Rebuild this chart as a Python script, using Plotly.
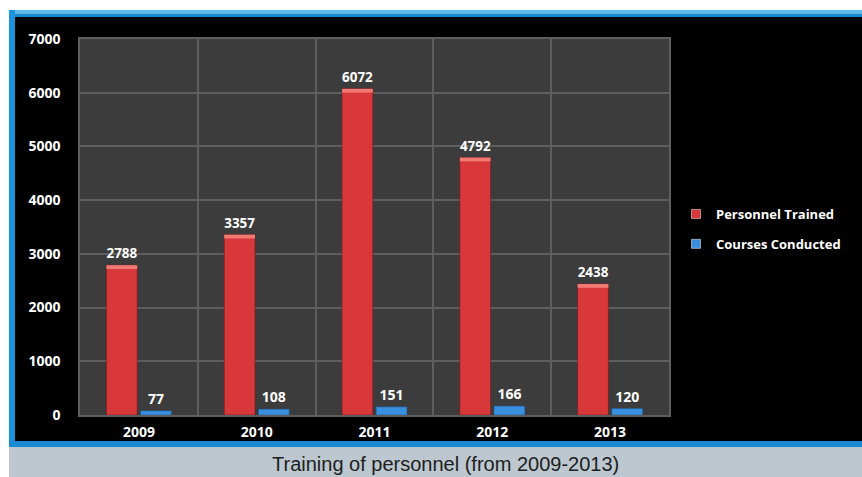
import plotly.graph_objects as go

# Training statistics per year
years = ["2009", "2010", "2011", "2012", "2013"]
personnel_trained = [2788, 3357, 6072, 4792, 2438]
courses_conducted = [77, 108, 151, 166, 120]
y_ticks = [0, 1000, 2000, 3000, 4000, 5000, 6000, 7000]

W, H = 862, 477
ML, MR, MT, MB = 80, 193, 39, 62
PW, PH = W - ML - MR, H - MT - MB

RED = "#d8383a"
RED_TOP = "#f27a74"
BLUE = "#3a90e0"
LABEL_FONT = dict(color="white", size=14, family="Open Sans", weight="bold")


def px_x(px):
    return (px - ML) / PW


def px_y(py):
    return (H - MB - py) / PH


def rect(x0, y0, x1, y1, color):
    return dict(type="rect", xref="paper", yref="paper", layer="below",
                x0=px_x(x0), x1=px_x(x1), y0=px_y(y1), y1=px_y(y0),
                fillcolor=color, line=dict(width=0))


# lighter cap on top of each red bar (3-D look)
cap = 70
cap_base = [v - cap for v in personnel_trained]

fig = go.Figure()
fig.add_trace(go.Bar(
    x=years, y=personnel_trained, name="Personnel Trained", offsetgroup="p",
    marker=dict(color=RED, line=dict(color="#7a1a1a", width=0.6)),
    text=personnel_trained, textposition="outside", cliponaxis=False,
    textfont=LABEL_FONT, showlegend=False,
))
fig.add_trace(go.Bar(
    x=years, y=[cap] * len(years), base=cap_base, offsetgroup="p",
    marker=dict(color=RED_TOP, line=dict(width=0)),
    hoverinfo="skip", showlegend=False,
))
fig.add_trace(go.Bar(
    x=years, y=courses_conducted, name="Courses Conducted", offsetgroup="c",
    marker=dict(color=BLUE, line=dict(color="#1c5c9c", width=0.6)),
    text=courses_conducted, textposition="outside", cliponaxis=False,
    textfont=LABEL_FONT, showlegend=False,
))

# legend entries
for name, color, grp in [("Personnel Trained", RED, "a"), ("Courses Conducted", BLUE, "b")]:
    fig.add_trace(go.Scatter(
        x=[None], y=[None], mode="markers", name=name, legendgroup=grp,
        marker=dict(symbol="square", size=9, color=color,
                    line=dict(color="white", width=0.5)),
    ))

shapes = [
    rect(15, 17, W, 441, "#000000"),          # black panel
    rect(9, 10, W, 13.5, "#5cbcf0"),          # top blue border (light)
    rect(9, 13.5, W, 17, "#178ad2"),          # top blue border (dark)
    rect(9, 10, 15, 441, "#1c94dc"),          # left blue border
    rect(9, 441, W, 447, "#1a8ad4"),          # bottom blue rule
    rect(9, 447, W, H, "#bcc7cf"),            # caption band
    rect(ML, MT, W - MR, H - MB, "#3c3c3c"),  # plot area
]

fig.update_layout(
    width=W, height=H,
    margin=dict(l=ML, r=MR, t=MT, b=MB, pad=0),
    paper_bgcolor="white", plot_bgcolor="rgba(0,0,0,0)",
    barmode="group", bargap=0.42, bargroupgap=0.1,
    shapes=shapes,
    font=dict(family="Open Sans", color="white"),
    legend=dict(
        x=px_x(676), xanchor="left", y=px_y(199), yanchor="top",
        bgcolor="rgba(0,0,0,0)", tracegroupgap=10,
        font=dict(size=13, color="white", family="Open Sans", weight="bold"),
        itemwidth=30,
    ),
    annotations=[dict(
        text="Training of personnel (from 2009-2013)",
        xref="paper", yref="paper", x=px_x(445), y=px_y(464),
        xanchor="center", yanchor="middle", showarrow=False,
        font=dict(family="Liberation Sans", size=20, color="#1e1e1e"),
    )],
)

fig.update_xaxes(
    type="category", tickson="boundaries", showgrid=True,
    gridcolor="#5e5e5e", gridwidth=1.5,
    showline=True, linecolor="#5e5e5e", linewidth=1.5, mirror=True,
    ticks="", tickfont=dict(size=14, color="white", family="Open Sans", weight="bold"),
    ticklabelstandoff=3,
)
fig.update_yaxes(
    range=[0, 7000], tickvals=y_ticks, showgrid=True,
    gridcolor="#5e5e5e", gridwidth=1.5, zeroline=False,
    showline=True, linecolor="#5e5e5e", linewidth=1.5, mirror=True,
    ticks="outside", ticklen=15, tickcolor="rgba(0,0,0,0)",
    tickfont=dict(size=14, color="white", family="Open Sans", weight="bold"),
)

fig.write_html("out.html")
